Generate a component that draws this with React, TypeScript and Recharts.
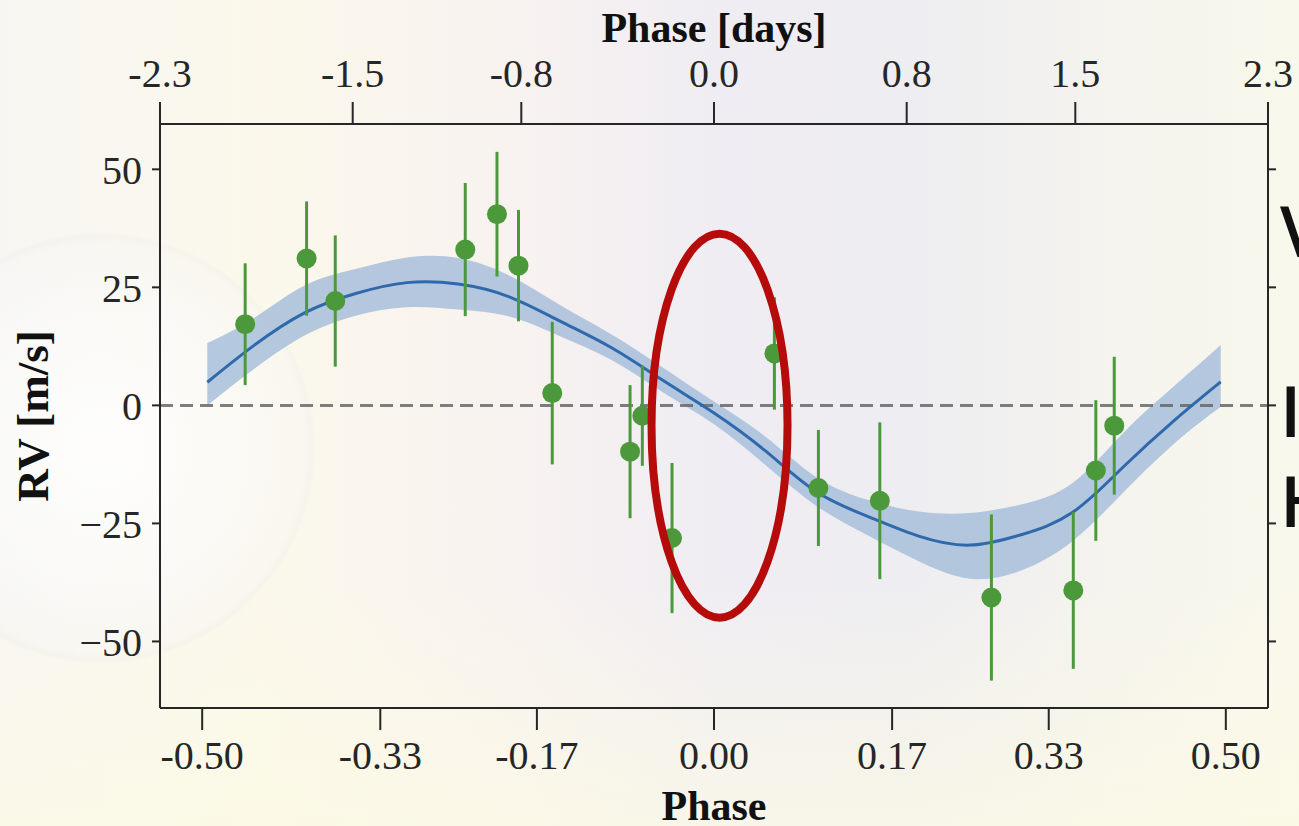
import React from 'react';
import {
  ComposedChart,
  Area,
  Line,
  Scatter,
  ErrorBar,
  XAxis,
  YAxis,
  ReferenceLine,
  ReferenceDot,
} from 'recharts';

// Keplerian model, sampled over one orbit
const modelPhase = [
  -0.495, -0.45, -0.4, -0.35, -0.3, -0.25, -0.2, -0.15, -0.1, -0.05, 0,
  0.05, 0.1, 0.15, 0.2, 0.25, 0.3, 0.35, 0.4, 0.45, 0.495,
];
const modelRv = [
  4.9, 12.6, 19.6, 23.7, 26.0, 25.7, 23.0, 17.8, 12.2, 5.3, -1.6,
  -9.6, -18.3, -23.5, -27.7, -29.6, -27.4, -22.7, -13.0, -3.1, 5.0,
];
const modelLow = [
  0.0, 7.6, 14.8, 19.0, 20.8, 20.3, 18.8, 14.6, 9.6, 2.8, -4.0,
  -12.6, -21.3, -27.5, -33.0, -36.7, -35.0, -28.8, -18.4, -8.0, -0.3,
];
const modelHigh = [
  13.2, 18.4, 25.4, 28.9, 31.3, 31.2, 27.5, 21.2, 15.0, 8.0, 0.8,
  -6.6, -15.2, -20.0, -22.5, -22.8, -21.0, -16.5, -5.8, 4.2, 12.8,
];

// observed radial velocities
const obsPhase = [
  -0.458, -0.398, -0.370, -0.243, -0.212, -0.191, -0.158, -0.082, -0.070,
  -0.041, 0.059, 0.102, 0.162, 0.271, 0.351, 0.373, 0.391,
];
const obsRv = [
  17.2, 31.1, 22.1, 33.0, 40.5, 29.6, 2.6, -9.8, -2.2,
  -28.1, 11.0, -17.5, -20.2, -40.7, -39.2, -13.8, -4.3,
];
const obsErr = [
  12.9, 12.1, 13.9, 14.1, 13.2, 11.8, 15.1, 14.1, 10.6,
  15.9, 11.9, 12.3, 16.6, 17.6, 16.6, 14.9, 14.6,
];

const phaseTicks = [-0.5, -0.326, -0.173, 0, 0.174, 0.327, 0.5];
const phaseLabels = ['-0.50', '-0.33', '-0.17', '0.00', '0.17', '0.33', '0.50'];
const dayTicks = [-2.3, -1.5, -0.8, 0, 0.8, 1.5, 2.3];
const dayLabels = ['-2.3', '-1.5', '-0.8', '0.0', '0.8', '1.5', '2.3'];
const rvTicks = [-50, -25, 0, 25, 50];
const rvLabels = ['\u221250', '\u221225', '0', '25', '50'];

const model = modelPhase.map((phase, i) => ({
  phase,
  rv: modelRv[i],
  band: [modelLow[i], modelHigh[i]],
}));
const observations = obsPhase.map((phase, i) => ({
  phase,
  rv: obsRv[i],
  err: obsErr[i],
}));

const INK = '#262626';
const GREEN = '#4c993b';
const serif = 'Liberation Serif, Times New Roman, serif';
const tickStyle = { fontFamily: serif, fontSize: 40, fill: INK };
const titleStyle = { fontFamily: serif, fontSize: 42, fontWeight: 700, fill: '#111' };
const lineStyle = { stroke: INK, strokeWidth: 2 };

const labelFor = (ticks: number[], labels: string[]) => (v: number) => {
  const i = ticks.findIndex((t) => Math.abs(t - v) < 1e-6);
  return i >= 0 ? labels[i] : '';
};

// faint slide backdrop behind the figure
const background = [
  'radial-gradient(circle at 100px 448px, rgba(255,255,255,0.8) 0, rgba(250,250,250,0.6) 150px, rgba(245,245,245,0.3) 206px, rgba(232,232,232,0.25) 212px, rgba(255,255,255,0) 216px)',
  'linear-gradient(180deg, rgba(255,255,255,0) 70%, rgba(252,250,228,0.7) 100%)',
  'linear-gradient(90deg, #f7f6f2 0%, #fbf8eb 20%, #f8f2f0 40%, #efedf3 55%, #eeedf1 70%, #f4f3ee 85%, #f9f8ec 100%)',
].join(',');

export default function App() {
  return (
    <div
      style={{
        position: 'absolute',
        left: 0,
        top: 0,
        width: 1299,
        height: 826,
        overflow: 'hidden',
        background,
      }}
    >
      <ComposedChart
        width={1299}
        height={826}
        data={model}
        margin={{ top: 64, right: 21, bottom: 58, left: 10 }}
      >
        <XAxis
          xAxisId="bottom"
          dataKey="phase"
          type="number"
          domain={[-0.5412, 0.5412]}
          allowDataOverflow
          ticks={phaseTicks}
          tickFormatter={labelFor(phaseTicks, phaseLabels)}
          height={60}
          tickSize={22}
          tickMargin={11}
          tick={tickStyle}
          axisLine={lineStyle}
          tickLine={lineStyle}
          label={{ value: 'Phase', position: 'bottom', offset: 22, style: titleStyle }}
        />
        <XAxis
          xAxisId="top"
          orientation="top"
          dataKey="phase"
          type="number"
          domain={[-2.3, 2.3]}
          allowDataOverflow
          ticks={dayTicks}
          tickFormatter={labelFor(dayTicks, dayLabels)}
          height={60}
          tickSize={22}
          tickMargin={15}
          tick={tickStyle}
          axisLine={lineStyle}
          tickLine={lineStyle}
          label={{ value: 'Phase [days]', position: 'top', offset: 22, style: titleStyle }}
        />
        <YAxis
          yAxisId="left"
          dataKey="rv"
          type="number"
          domain={[-64.1, 59.6]}
          allowDataOverflow
          ticks={rvTicks}
          tickFormatter={labelFor(rvTicks, rvLabels)}
          width={150}
          tickSize={8}
          tickMargin={10}
          tick={tickStyle}
          axisLine={lineStyle}
          tickLine={lineStyle}
          label={{
            value: 'RV [m/s]',
            angle: -90,
            position: 'insideLeft',
            offset: 22,
            style: { ...titleStyle, fontSize: 45, textAnchor: 'middle' },
          }}
        />
        <YAxis
          yAxisId="right"
          orientation="right"
          type="number"
          domain={[-64.1, 59.6]}
          allowDataOverflow
          ticks={rvTicks}
          tickFormatter={() => ''}
          width={10}
          tickSize={8}
          axisLine={lineStyle}
          tickLine={lineStyle}
        />

        <Area
          xAxisId="bottom"
          yAxisId="left"
          dataKey="band"
          type="natural"
          stroke="none"
          fill="#a3bbda"
          fillOpacity={0.8}
          isAnimationActive={false}
        />
        <ReferenceLine
          xAxisId="bottom"
          yAxisId="left"
          y={0}
          stroke="#676767"
          strokeOpacity={0.85}
          strokeWidth={3}
          strokeDasharray="13 7"
        />
        <Line
          xAxisId="bottom"
          yAxisId="left"
          dataKey="rv"
          type="natural"
          stroke="#2f69ac"
          strokeWidth={3}
          dot={false}
          isAnimationActive={false}
        />
        <Scatter
          xAxisId="bottom"
          yAxisId="left"
          data={observations}
          dataKey="rv"
          isAnimationActive={false}
          shape={(p: any) => <circle cx={p.cx} cy={p.cy} r={10} fill={GREEN} />}
        >
          <ErrorBar dataKey="err" direction="y" width={0} stroke={GREEN} strokeWidth={3} />
        </Scatter>

        <ReferenceDot
          xAxisId="bottom"
          yAxisId="left"
          x={0.0054}
          y={-4.3}
          r={1}
          ifOverflow="visible"
          shape={(p: any) => (
            <ellipse cx={p.cx} cy={p.cy} rx={68} ry={192} fill="none" stroke="#b60b0b" strokeWidth={8} />
          )}
        />
      </ComposedChart>

      <svg
        width={1299}
        height={826}
        style={{ position: 'absolute', left: 0, top: 0, pointerEvents: 'none' }}
      >
        <g fontFamily="Open Sans, Noto Sans, sans-serif" fontSize={70} fontWeight={600} fill="#111">
          <text x={1280} y={257}>V</text>
          <text x={1280} y={437}>I</text>
          <text x={1280} y={527}>H</text>
        </g>
      </svg>
    </div>
  );
}
